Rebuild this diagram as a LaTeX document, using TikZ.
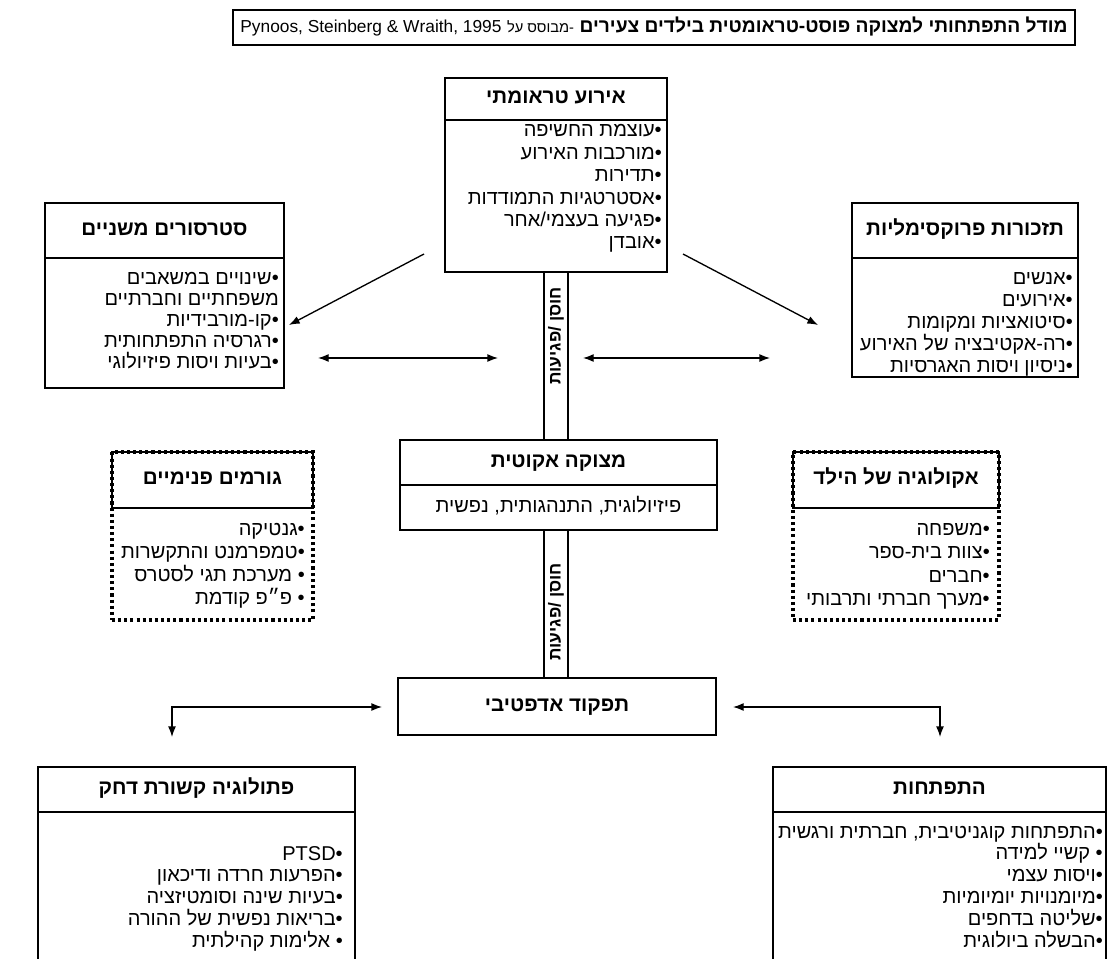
\documentclass[tikz,border=0pt]{standalone}
\usepackage{fontspec}
\setmainfont{Liberation Sans}
\newfontfamily\hebfont[Script=Hebrew]{Liberation Sans}
\TeXXeTstate=1
\usetikzlibrary{arrows.meta,fit}

\newcommand{\rl}[1]{\beginR#1\endR}
\newcommand{\lt}[1]{\beginL#1\endL}
\newcommand{\bul}{•\kern0pt}

\begin{document}
\begin{tikzpicture}[
  x=0.75pt, y=-0.75pt,
  font=\hebfont\fontsize{15}{18}\selectfont,
  >={Latex[length=8pt,width=6pt]},
  frame/.style={draw,line width=1.3pt,inner sep=0pt},
  dots/.style={draw,line width=2.3pt,dash pattern=on 2.3pt off 2.3pt,inner sep=0pt},
  hdt/.style={inner sep=0pt,text height=11pt,text depth=3.5pt,font=\hebfont\bfseries\fontsize{15.5}{18}\selectfont},
  itm/.style={inner sep=0pt,anchor=east,text height=11pt,text depth=3.5pt},
  vlab/.style={rotate=90,inner sep=0pt,font=\hebfont\bfseries\fontsize{13}{15}\selectfont},
  arr/.style={line width=1pt}]
  \useasboundingbox (0,0) rectangle (1108,959);

  % title
  \node[frame,fit={(233,10)(1075,45)}] (title) {};
  \node[inner sep=0pt,text height=10pt,text depth=3pt] (titletxt) at (title.center)
    {\rl{{\bfseries\fontsize{14.4}{17}\selectfont מודל התפתחותי למצוקה פוסט-טראומטית בילדים צעירים} {\fontsize{11}{13}\selectfont-\kern0pt מבוסס על} {\fontsize{13}{15}\selectfont\lt{Pynoos, Steinberg \& Wraith, 1995}}}};

  % traumatic event
  \node[frame,fit={(445,78)(667,120)}] (event) {};
  \node[hdt] (eventtxt) at (event.center) {\rl{אירוע טראומתי}};
  \node[frame,fit={(445,120)(667,272)}] (eventbody) {};
  \foreach \t [count=\i from 0] in {{\bul עוצמת החשיפה},{\bul מורכבות האירוע},{\bul תדירות},
      {\bul אסטרטגיות התמודדות},{\bul פגיעה בעצמי/אחר},{\bul אובדן}}
    \node[itm] (ev\i) at (662,132+22.4*\i) {\rl{\t}};

  % secondary stressors
  \node[frame,fit={(45,203)(284,258)}] (sec) {};
  \node[hdt] (sectxt) at (sec.center) {\rl{סטרסורים משניים}};
  \node[frame,fit={(45,258)(284,388)}] (secbody) {};
  \foreach \t [count=\i from 0] in {{\bul שינויים במשאבים},{משפחתיים וחברתיים},{\bul קו-מורבידיות},
      {\bul רגרסיה התפתחותית},{\bul בעיות ויסות פיזיולוגי}}
    \node[itm] (sec\i) at (279,280+21*\i) {\rl{\t}};

  % proximal reminders
  \node[frame,fit={(852,203)(1078,258)}] (prox) {};
  \node[hdt] (proxtxt) at (prox.center) {\rl{תזכורות פרוקסימליות}};
  \node[frame,fit={(852,258)(1078,377)}] (proxbody) {};
  \foreach \t [count=\i from 0] in {{\bul אנשים},{\bul אירועים},{\bul סיטואציות ומקומות},
      {\bul רה-אקטיבציה של האירוע},{\bul ניסיון ויסות האגרסיות}}
    \node[itm] (prox\i) at (1073,280+21.8*\i) {\rl{\t}};

  % acute distress
  \node[frame,fit={(400,440)(717,485)}] (acute) {};
  \node[hdt] (acutetxt) at (acute.center) {\rl{מצוקה אקוטית}};
  \node[frame,fit={(400,485)(717,530)}] (acutebody) {};
  \node[itm,anchor=center] (acutesub) at (acutebody.center) {\rl{פיזיולוגית\kern0pt, התנהגותית\kern0pt, נפשית}};

  % resilience bars
  \node[frame,fit={(544,272)(568,440)}] (bar1) {};
  \node[vlab] (res1) at (556,336) {\rl{חוסן /\kern0pt פגיעות}};
  \node[frame,fit={(544,530)(568,678)}] (bar2) {};
  \node[vlab] (res2) at (556,612) {\rl{חוסן /\kern0pt פגיעות}};

  % adaptive functioning
  \node[frame,fit={(398,678)(716,735)}] (adapt) {};
  \node[hdt] (adapttxt) at (adapt.center) {\rl{תפקוד אדפטיבי}};

  % intrinsic factors
  \node[dots,fit={(112,452)(313,620)}] (intr) {};
  \node[frame,fit={(112,452)(313,508)}] (intrhd) {};
  \node[hdt] (intrtxt) at (intrhd.center) {\rl{גורמים פנימיים}};
  \foreach \t [count=\i from 0] in {{\bul גנטיקה},{\bul טמפרמנט והתקשרות},{\bul\ מערכת תגי לסטרס},
      {\bul\ פ״פ קודמת}}
    \node[itm] (intr\i) at (305,531+22.7*\i) {\rl{\t}};

  % child ecology
  \node[dots,fit={(793,452)(999,620)}] (eco) {};
  \node[frame,fit={(793,452)(999,508)}] (ecohd) {};
  \node[hdt] (ecotxt) at (ecohd.center) {\rl{אקולוגיה של הילד}};
  \foreach \t [count=\i from 0] in {{\bul משפחה},{\bul צוות בית-ספר},{\bul חברים},
      {\bul מערך חברתי ותרבותי}}
    \node[itm] (eco\i) at (990,531+23*\i) {\rl{\t}};

  % stress related pathology
  \node[frame,fit={(38,767)(355,812)}] (path) {};
  \node[hdt] (pathtxt) at (path.center) {\rl{פתולוגיה קשורת דחק}};
  \node[frame,fit={(38,812)(355,964)}] (pathbody) {};
  \foreach \t [count=\i from 0] in {{\bul\lt{PTSD}},{\bul הפרעות חרדה ודיכאון},{\bul בעיות שינה וסומטיזציה},
      {\bul בריאות נפשית של ההורה},{\bul\ אלימות קהילתית}}
    \node[itm] (path\i) at (343,855+21.8*\i) {\rl{\t}};

  % development
  \node[frame,fit={(773,767)(1106,812)}] (dev) {};
  \node[hdt] (devtxt) at (dev.center) {\rl{התפתחות}};
  \node[frame,fit={(773,812)(1106,964)}] (devbody) {};
  \foreach \t [count=\i from 0] in {{\bul התפתחות קוגניטיבית\kern0pt, חברתית ורגשית},{\bul\ קשיי למידה},
      {\bul ויסות עצמי},{\bul מיומנויות יומיומיות},{\bul שליטה בדחפים},{\bul הבשלה ביולוגית}}
    \node[itm] (dev\i) at (1103,833+21.8*\i) {\rl{\t}};

  % connectors
  \coordinate (dl1) at (424,254);  \coordinate (dl2) at (289,325);
  \coordinate (dr1) at (683,254);  \coordinate (dr2) at (818,325);
  \coordinate (hl1) at (318,358);  \coordinate (hl2) at (498,358);
  \coordinate (hr1) at (583,358);  \coordinate (hr2) at (770,358);
  \coordinate (bl1) at (382,707);  \coordinate (bl2) at (172,737);
  \coordinate (br1) at (733,707);  \coordinate (br2) at (940,737);
  \draw[arr,->] (dl1) -- (dl2);
  \draw[arr,->] (dr1) -- (dr2);
  \draw[arr,<->] (hl1) -- (hl2);
  \draw[arr,<->] (hr1) -- (hr2);
  \draw[arr,<->] (bl1) -| (bl2);
  \draw[arr,<->] (br1) -| (br2);
\end{tikzpicture}
\end{document}
